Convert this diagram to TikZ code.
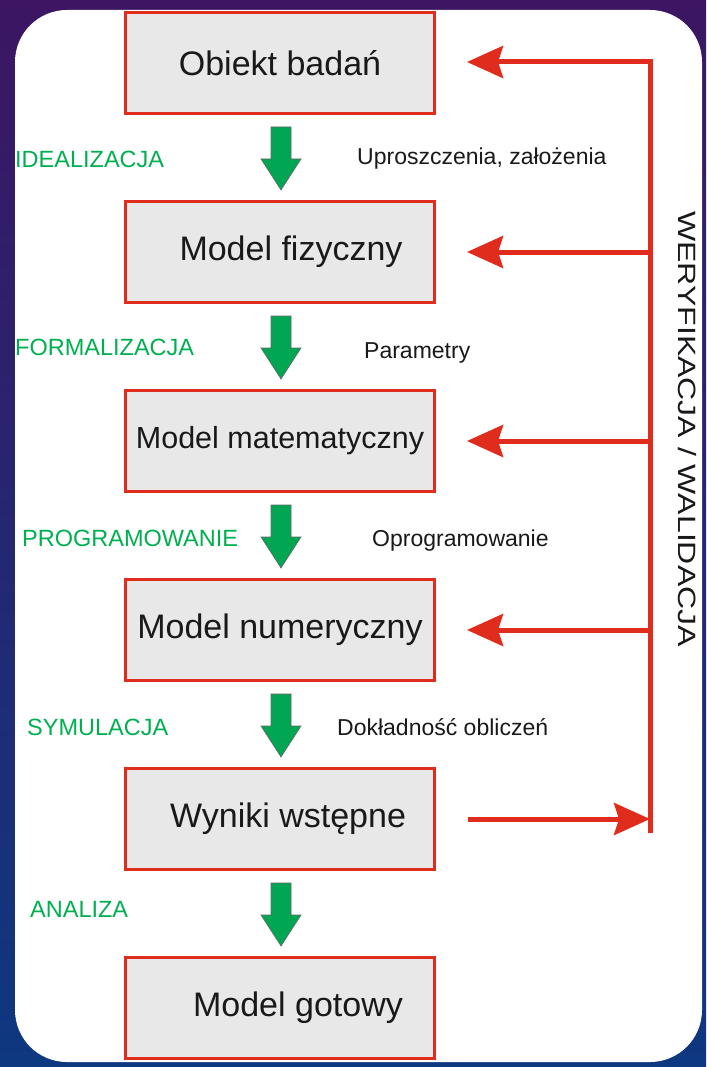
\documentclass[tikz,border=0pt]{standalone}
\usepackage{fontspec}
\setmainfont{Liberation Sans}
\usepackage{tikz}
\usetikzlibrary{calc,positioning,arrows.meta}
\definecolor{boxred}{RGB}{224,44,28}
\definecolor{boxgray}{RGB}{232,232,232}
\definecolor{stepgreen}{RGB}{0,166,81}
\definecolor{labelgreen}{RGB}{0,176,80}
\definecolor{bgtop}{RGB}{60,22,98}
\definecolor{bgbottom}{RGB}{14,56,128}
\tikzset{
	% boxes of the modelling chain
	model box/.style={rectangle,draw=boxred,fill=boxgray,line width=3pt,minimum width=309pt,minimum height=101pt,inner sep=0pt,text=black!90,font=\fontsize{34}{40}\selectfont},
	% green block arrows and red feedback lines
	flow arrow/.style={fill=stepgreen,draw=black!60,line width=0.6pt},
	check arrow/.style={draw=boxred,line width=5pt,-{Stealth[length=36pt,width=32pt,inset=5pt]}},
	% texts beside the arrows
	stage label/.style={anchor=base west,inner sep=0pt,text=labelgreen,font=\fontsize{23.5}{28}\selectfont},
	note label/.style={anchor=base west,inner sep=0pt,text=black!90,font=\fontsize{23}{28}\selectfont}
}
\begin{document}
\begin{tikzpicture}[x=1pt,y=-1pt,node distance=85pt]
	% macro for a green arrow between two boxes
	\newcommand{\greenarrow}[2]{\draw[flow arrow] ($(#1.south)+(-9,12)$) -- ($(#1.south)+(11,12)$) -- ($(#2.north)+(11,-41)$) -- ($(#2.north)+(21,-41)$) -- ($(#2.north)+(1,-10)$) -- ($(#2.north)+(-19,-41)$) -- ($(#2.north)+(-9,-41)$) -- cycle;}
	\useasboundingbox (0,0) rectangle (706,1067);
	% background and white panel
	\shade[top color=bgtop,bottom color=bgbottom] (0,0) rectangle (706,1067);
	\fill[white,rounded corners=52pt] (15,10) rectangle (702,1062);
	
	% the chain of models
	\node[model box] (m1) at (280,63) {Obiekt badań};
	\node[model box,below=of m1] (m2) {\hspace*{22pt}Model fizyczny};
	\node[model box,below=of m2] (m3) {\fontsize{30.5}{36}\selectfont Model matematyczny};
	\node[model box,below=of m3] (m4) {Model numeryczny};
	\node[model box,below=of m4] (m5) {\hspace*{16pt}Wyniki wstępne};
	\node[model box,below=of m5] (m6) {\hspace*{36pt}Model gotowy};
	
	\foreach \a/\b in {m1/m2,m2/m3,m3/m4,m4/m5,m5/m6}
		{\greenarrow{\a}{\b}}
	
	% verification / validation loop
	\coordinate (vtop) at ($(m1.east)+(214,-1)$);
	\coordinate (vbot) at ($(m5.east)+(214,14)$);
	\draw[check arrow] (vbot) -- (vtop) -- ([xshift=31pt]m1.east |- vtop);
	\foreach \m in {m2,m3,m4}
		\draw[check arrow] (vtop |- \m.east) -- ([xshift=31pt]\m.east);
	\draw[check arrow] ([xshift=32pt]m5.east) -- (vtop |- m5.east);
	\node[rotate=-90,anchor=base,inner sep=0pt,text=black!90,font=\fontsize{25}{30}\selectfont] (wer) at (678,429) {\scalebox{1.28}[1]{WERYFIKACJA / WALIDACJA}};
	
	% stage names
	\node[stage label] (ideal) at (15,168) {IDEALIZACJA};
	\node[stage label] (formal) at (15,355) {FORMALIZACJA};
	\node[stage label] (progr) at (22,546) {PROGRAMOWANIE};
	\node[stage label] (symul) at (27,735) {SYMULACJA};
	\node[stage label] (anal) at (30,917) {ANALIZA};
	
	% what each step brings in
	\node[note label] (n1) at (357,165) {Uproszczenia, założenia};
	\node[note label] (n2) at (364,358) {Parametry};
	\node[note label] (n3) at (372,546) {Oprogramowanie};
	\node[note label] (n4) at (337,735) {Dokładność obliczeń};
\end{tikzpicture}
\end{document}
